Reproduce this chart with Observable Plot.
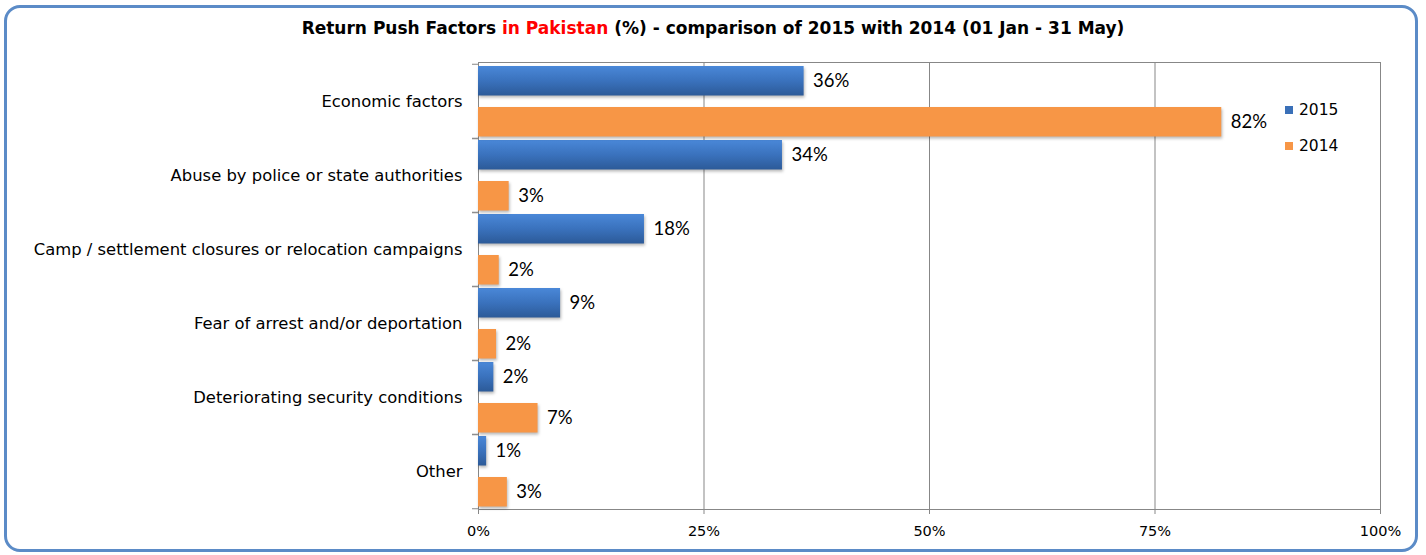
<!DOCTYPE html>
<html>
<head>
<meta charset="utf-8">
<script src="https://cdn.jsdelivr.net/npm/d3@7"></script>
<script src="https://cdn.jsdelivr.net/npm/@observablehq/plot@0.6"></script>
<style>
  html, body { margin: 0; padding: 0; background: #fff; }
  #wrap { position: relative; width: 1426px; height: 555px; overflow: hidden; }
  #border { position: absolute; left: 4px; top: 5px; width: 1408px; height: 541px;
    border: 3px solid #5b8bc7; border-radius: 16px; }
  #title { position: absolute; left: 0; top: 18px; width: 1426px; text-align: center;
    font-family: "DejaVu Sans", sans-serif; font-weight: bold; font-size: 17px; color: #000; }
  #title .red { color: #ff0000; }
  #chart { position: absolute; left: 0; top: 0; }
  .leg { position: absolute; font-family: "DejaVu Sans", sans-serif; font-size: 15.5px; color: #000; }
  .leg .sw { display: inline-block; width: 8px; height: 8px; margin-right: 6px; vertical-align: 1px; }
  svg g[aria-label="bar"] rect { filter: drop-shadow(1px 2px 1.5px rgba(0,0,0,0.28)); }
</style>
</head>
<body>
<div id="wrap">
  <div id="border"></div>
  <div id="chart"></div>
  <div id="title"></div>
  <div id="legend"></div>
</div>
<script>
const titleParts = ["Return Push Factors ", "in Pakistan", " (%) - comparison of 2015 with 2014 (01 Jan - 31 May)"];
const categories = [
  "Economic factors",
  "Abuse by police or state authorities",
  "Camp / settlement closures or relocation campaigns",
  "Fear of arrest and/or deportation",
  "Deteriorating security conditions",
  "Other"
];
const seriesNames = ["2015", "2014"];
const values2015 = [36.1, 33.7, 18.4, 9.1, 1.7, 0.9];
const values2014 = [82.4, 3.4, 2.3, 2.0, 6.6, 3.2];
const xTicks = [0, 25, 50, 75, 100];
const seriesColors = ["#3a70b8", "#f79646"];

const fmt = v => d3.format(".0f")(v) + "%";
const d15 = categories.map((c, i) => ({cat: c, v: values2015[i]}));
const d14 = categories.map((c, i) => ({cat: c, v: values2014[i]}));

document.getElementById("title").innerHTML =
  titleParts[0] + '<span class="red">' + titleParts[1] + '</span>' + titleParts[2];

const labelFont = "DejaVu Sans, sans-serif";
const valueFont = "Lato, sans-serif";
const gridColor = "#878787";

const plot = Plot.plot({
  width: 1426,
  height: 555,
  marginTop: 62,
  marginBottom: 46,
  marginLeft: 478,
  marginRight: 46,
  style: {background: "transparent", color: "#000", overflow: "visible"},
  x: {domain: [0, 100]},
  y: {type: "band", domain: categories, padding: 0},
  marks: [
    Plot.ruleX(xTicks.slice(1, -1), {stroke: gridColor, strokeOpacity: 1}),
    Plot.frame({stroke: gridColor}),
    Plot.barX(d15, {x: "v", y: "cat", fill: "url(#g2015)", insetTop: 2, insetBottom: 42.5}),
    Plot.barX(d14, {x: "v", y: "cat", fill: seriesColors[1], insetTop: 43, insetBottom: 1.5}),
    Plot.text(d15, {x: "v", y: "cat", text: d => fmt(d.v), dx: 9, dy: -20.25, textAnchor: "start",
      fontSize: 18.5, fontFamily: valueFont, fill: "#000"}),
    Plot.text(d14, {x: "v", y: "cat", text: d => fmt(d.v), dx: 9, dy: 20.75, textAnchor: "start",
      fontSize: 18.5, fontFamily: valueFont, fill: "#000"}),
    Plot.axisY({tickSize: 0, tickPadding: 16, fontSize: 16.4, fontFamily: labelFont, label: null}),
    Plot.axisY({tickSize: 6, tickFormat: () => "", dy: 37.25, stroke: gridColor, label: null}),
    Plot.axisY({tickSize: 6, tickFormat: () => "", dy: -37.25, stroke: gridColor, label: null}),
    Plot.axisX({ticks: xTicks, tickFormat: d => d + "%", tickSize: 5, tickPadding: 11, fontSize: 14.5,
      fontFamily: labelFont, stroke: gridColor, label: null})
  ]
});

const svg = d3.select(plot);
const defs = svg.insert("defs", ":first-child");
const grad = defs.append("linearGradient").attr("id", "g2015")
  .attr("x1", 0).attr("y1", 0).attr("x2", 0).attr("y2", 1);
grad.append("stop").attr("offset", 0).attr("stop-color", "#4a88d8");
grad.append("stop").attr("offset", 0.5).attr("stop-color", "#3a72bd");
grad.append("stop").attr("offset", 1).attr("stop-color", "#2c5a98");

document.getElementById("chart").appendChild(plot);

const legend = document.getElementById("legend");
const legendTops = [101, 137];
seriesNames.forEach((s, i) => {
  const el = document.createElement("div");
  el.className = "leg";
  el.style.left = "1285px";
  el.style.top = legendTops[i] + "px";
  el.innerHTML = '<span class="sw" style="background:' + seriesColors[i] + '"></span>' + s;
  legend.appendChild(el);
});
</script>
</body>
</html>
